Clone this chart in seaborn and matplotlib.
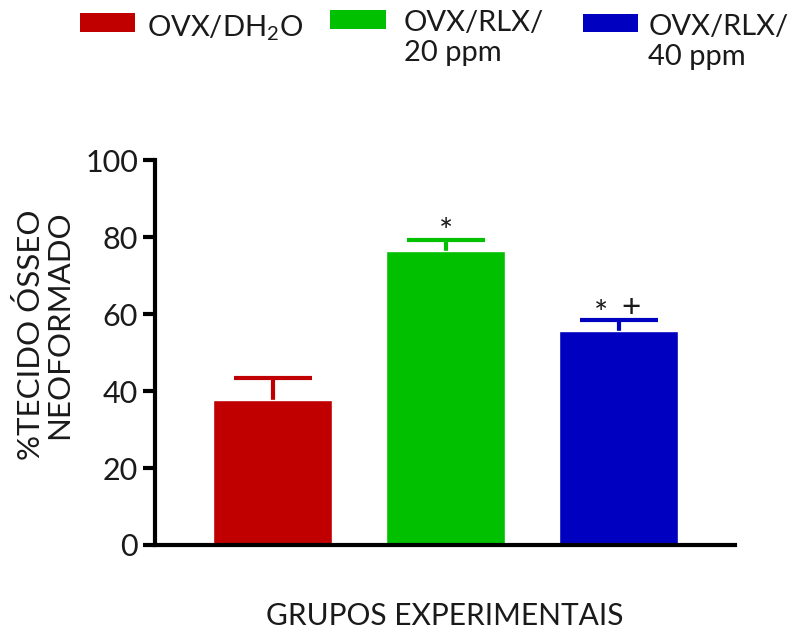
import matplotlib
matplotlib.use("Agg")
import matplotlib.pyplot as plt
import seaborn as sns
import pandas as pd
from matplotlib.patches import Patch

# Group means and SEM (% newly formed bone tissue)
groups = ["OVX/DH$_2$O", "OVX/RLX/\n20 ppm", "OVX/RLX/\n40 ppm"]
means = [37.6, 76.3, 55.7]
sems = [5.8, 3.0, 2.7]
colors = ["#C00000", "#00C000", "#0000C0"]
# significance symbols above each bar
marks = [[], ["*"], ["*", "+"]]

sns.set_theme(style="ticks")
plt.rcParams["font.family"] = ["Lato", "DejaVu Sans"]
plt.rcParams["mathtext.default"] = "regular"
ink = "#1a1a1a"

df = pd.DataFrame({"group": groups, "mean": means})

fig = plt.figure(figsize=(7.9, 6.31), dpi=100)
ax = fig.add_axes([0.196, 0.1363, 0.734, 0.6101])

sns.barplot(data=df, x="group", y="mean", hue="group", palette=colors,
            order=groups, hue_order=groups, width=0.69, errorbar=None,
            legend=False, saturation=1, ax=ax, zorder=2)

# upward-only error bars, drawn behind the bars
sym_dx = {1: [0.0], 2: [-0.1, 0.07]}
sym_dy = {1: {"*": -0.6}, 2: {"*": -0.9, "+": 0.8}}
for i, (m, s, c) in enumerate(zip(means, sems, colors)):
    _, caps, _ = ax.errorbar(i, m, yerr=[[0], [s]], color=c, elinewidth=3,
                             capsize=28, capthick=3, zorder=1)
    for cap in caps:
        if cap.get_ydata()[0] <= m:
            cap.set_visible(False)
    n = len(marks[i])
    for k, sym in enumerate(marks[i]):
        ax.text(i + sym_dx[n][k], m + s + sym_dy[n][sym], sym,
                ha="center", va="baseline", fontsize=24, color=ink)

ax.set_ylim(0, 100)
ax.set_xlim(-0.68, 2.67)
ax.set_yticks([0, 20, 40, 60, 80, 100])
ax.set_xticks([])
ax.tick_params(axis="y", direction="out", length=9, width=3, labelsize=22,
               pad=3, colors="black", labelcolor=ink)
for sp in ["top", "right"]:
    ax.spines[sp].set_visible(False)
for sp in ["left", "bottom"]:
    ax.spines[sp].set_linewidth(3)
    ax.spines[sp].set_color("black")

ax.set_xlabel("GRUPOS EXPERIMENTAIS", fontsize=21.5, labelpad=41, color=ink)
ax.set_ylabel("%TECIDO ÓSSEO\nNEOFORMADO", fontsize=22.5, color=ink,
              linespacing=1.0, multialignment="right")
ax.yaxis.set_label_coords(-0.141, 0.545)

# one legend entry per column, swatch aligned with the first text line
anchors = [(0.101, 0.979), (0.418, 0.984), (0.738, 0.978)]
pads = [0.41, 0.62, 0.34]
for h_color, label, anchor, pad in zip(colors, groups, anchors, pads):
    leg = fig.legend([Patch(facecolor=h_color, edgecolor="none")], [label],
                     loc="upper left", bbox_to_anchor=anchor, frameon=False,
                     fontsize=21, handlelength=1.9, handleheight=0.6,
                     handletextpad=pad, borderaxespad=0, labelspacing=0,
                     borderpad=0, labelcolor=ink)
    for col in leg._legend_handle_box.get_children():
        for item in col.get_children():
            item.align = "top"
    for t in leg.get_texts():
        t.set_linespacing(1.2)

fig.savefig("out.png", dpi=100)
